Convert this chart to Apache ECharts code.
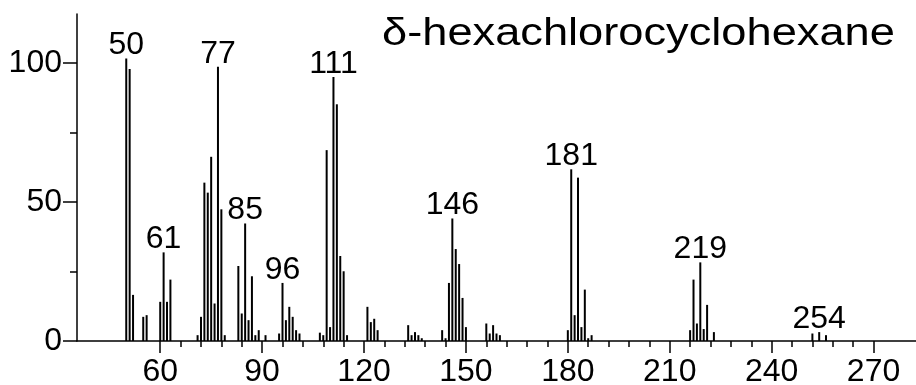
<!DOCTYPE html>
<html><head><meta charset="utf-8">
<script src="https://cdn.jsdelivr.net/npm/echarts@6/dist/echarts.min.js"></script>
<style>html,body{margin:0;padding:0;background:#fff}#c{width:916px;height:385px}</style>
</head><body><div id="c"></div>
<script>
const mzValues = [50,51,52,55,56,60,61,62,63,71,72,73,74,75,76,77,78,79,83,84,85,86,87,88,89,91,95,96,97,98,99,100,101,107,108,109,110,111,112,113,114,115,121,122,123,124,133,134,135,136,137,143,144,145,146,147,148,149,150,156,157,158,159,160,180,181,182,183,184,185,186,187,216,217,218,219,220,221,223,252,254,256];
const intensities = [101.7,97.9,16.6,8.7,9.3,14.1,31.9,14.1,22.1,2.1,8.7,57.0,53.4,66.3,13.5,98.7,47.4,2.1,27.0,9.9,42.3,7.5,23.3,2.1,3.9,2.1,2.7,20.9,7.5,12.3,8.7,3.9,2.7,3.0,2.1,68.7,5.0,95.0,85.2,30.6,25.1,2.1,12.3,6.8,8.0,3.9,5.7,2.1,3.2,2.1,1.0,3.9,1.0,20.9,44.1,33.1,27.7,15.5,5.0,6.3,2.7,5.7,2.7,2.1,3.9,61.8,9.3,58.8,5.0,18.5,1.0,2.1,3.9,22.1,6.3,28.3,4.3,13.0,3.2,2.7,3.2,2.1];
const labeledPeaks = [50,61,77,85,96,111,146,181,219,254];
const xMajorTicks = [60,90,120,150,180,210,240,270];
const xMinorTicks = [66,72,78,84,96,102,108,114,126,132,138,144,156,162,168,174,186,192,198,204,216,222,228,234,246,252,258,264];
const yMajorTicks = [0,50,100];
const yMinorTicks = [25,75];
const titleText = 'δ-hexachlorocyclohexane';

const FONT = 'Liberation Sans, Arial, Helvetica, sans-serif';
const chart = echarts.init(document.getElementById('c'));
const data = mzValues.map((m, i) => ({
  value: [m, intensities[i]],
  label: { show: labeledPeaks.indexOf(m) >= 0 }
}));
const lineStyle = { color: '#000', width: 1.5 };
chart.setOption({
  animation: false,
  backgroundColor: '#fff',
  grid: { left: 77, right: 0, top: 14, bottom: 44, containLabel: false, outerBoundsMode: 'none' },
  xAxis: [
    { type: 'value', min: 35.5, max: 282.5, position: 'bottom',
      axisLine: { show: true, onZero: false, lineStyle: lineStyle },
      axisTick: { show: true, length: 12, customValues: xMajorTicks, lineStyle: lineStyle },
      axisLabel: { show: true, customValues: xMajorTicks, margin: 15, color: '#000', fontSize: 32, fontFamily: FONT },
      splitLine: { show: false } },
    { type: 'value', min: 35.5, max: 282.5, position: 'bottom',
      axisLine: { show: false },
      axisTick: { show: true, length: 6, customValues: xMinorTicks, lineStyle: lineStyle },
      axisLabel: { show: false },
      splitLine: { show: false } }
  ],
  yAxis: [
    { type: 'value', min: 0, max: 117.7, position: 'left',
      axisLine: { show: true, lineStyle: lineStyle },
      axisTick: { show: true, length: 14, customValues: yMajorTicks, lineStyle: lineStyle },
      axisLabel: { show: true, customValues: yMajorTicks, margin: 15, color: '#000', fontSize: 32, fontFamily: FONT },
      splitLine: { show: false } },
    { type: 'value', min: 0, max: 117.7, position: 'left',
      axisLine: { show: false },
      axisTick: { show: true, length: 7, customValues: yMinorTicks, lineStyle: lineStyle },
      axisLabel: { show: false },
      splitLine: { show: false } }
  ],
  series: [{
    type: 'bar',
    xAxisIndex: 0, yAxisIndex: 0,
    barWidth: 2,
    itemStyle: { color: '#000' },
    label: { position: 'top', distance: -3, color: '#000', fontSize: 32, fontFamily: FONT,
      formatter: p => String(p.value[0]) },
    data: data
  }],
  graphic: [{
    type: 'text', x: 382, y: 34.5, scaleX: 1.19,
    style: { text: titleText, fill: '#000', font: '38px ' + FONT, textAlign: 'left', textVerticalAlign: 'middle' }
  }]
});
</script></body></html>
